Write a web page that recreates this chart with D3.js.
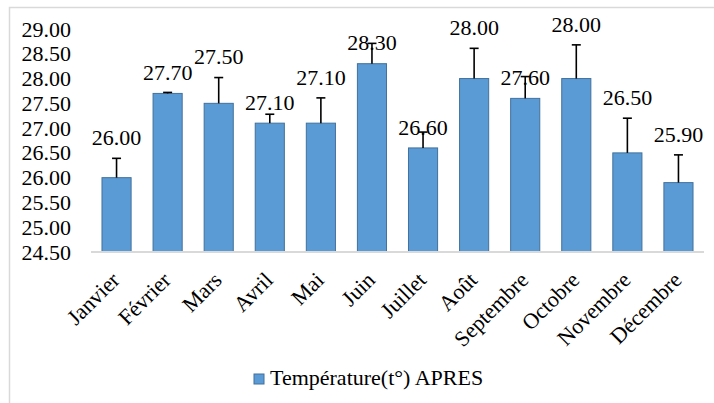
<!DOCTYPE html>
<html>
<head>
<meta charset="utf-8">
<script src="https://cdn.jsdelivr.net/npm/d3@7"></script>
</head>
<body style="margin:0">
<svg id="chart" width="714" height="403"></svg>
<script>
// data
const months = ["Janvier", "Février", "Mars", "Avril", "Mai", "Juin", "Juillet", "Août", "Septembre", "Octobre", "Novembre", "Décembre"];
const temps = [26.0, 27.7, 27.5, 27.1, 27.1, 28.3, 26.6, 28.0, 27.6, 28.0, 26.5, 25.9];
const errs = [0.39, 0.02, 0.52, 0.18, 0.51, 0.41, 0.32, 0.61, 0.44, 0.68, 0.70, 0.56];
// which value labels sit above the error bar rather than the bar top
const labelOverErr = [true, false, true, false, true, false, false, true, false, true, true, true];
const yTicks = d3.range(24.5, 29.01, 0.5);
const seriesName = "Température(t°) APRES";

const FONT = "Liberation Serif";
const FS = 22;
const svg = d3.select("#chart");
const margin = { left: 91, right: 10, top: 29, bottom: 151 };

// outer frame (only left + top visible)
svg.append("rect")
  .attr("x", 9.5).attr("y", 7.5)
  .attr("width", 720).attr("height", 420)
  .attr("fill", "none").attr("stroke", "#d9d9d9").attr("stroke-width", 1.5);

const x = d3.scaleBand()
  .domain(months)
  .range([margin.left, 704])
  .paddingInner(0.43).paddingOuter(0.215);

const y = d3.scaleLinear()
  .domain([24.5, 29])
  .range([252, 29]);

// y axis labels
const yAxis = svg.append("g")
  .attr("transform", `translate(${margin.left},0)`)
  .call(d3.axisLeft(y).tickValues(yTicks).tickFormat(d3.format(".2f")).tickSize(0).tickPadding(20));
yAxis.attr("font-family", FONT).attr("font-size", FS);
yAxis.select(".domain").remove();
yAxis.selectAll("text").attr("fill", "#000");

// bars
svg.append("g").selectAll("rect")
  .data(temps)
  .join("rect")
  .attr("x", (d, i) => x(months[i]))
  .attr("y", d => y(d))
  .attr("width", x.bandwidth())
  .attr("height", d => y(24.5) - y(d))
  .attr("fill", "#5b9bd5")
  .attr("stroke", "#41719c")
  .attr("stroke-width", 1);

// error bars (plus only)
const eb = svg.append("g").attr("stroke", "#000").attr("stroke-width", 1.6);
temps.forEach((d, i) => {
  const cx = x(months[i]) + x.bandwidth() / 2;
  eb.append("line")
    .attr("x1", cx).attr("x2", cx)
    .attr("y1", y(d)).attr("y2", y(d + errs[i]));
  eb.append("line")
    .attr("x1", cx - 4.5).attr("x2", cx + 4.5)
    .attr("y1", y(d + errs[i])).attr("y2", y(d + errs[i]));
});

// x axis line
svg.append("line")
  .attr("x1", margin.left).attr("x2", 704)
  .attr("y1", y(24.5)).attr("y2", y(24.5))
  .attr("stroke", "#d9d9d9").attr("stroke-width", 2);

// value labels
svg.append("g")
  .attr("font-family", FONT).attr("font-size", FS)
  .selectAll("text")
  .data(temps)
  .join("text")
  .attr("x", (d, i) => x(months[i]) + x.bandwidth() / 2)
  .attr("y", (d, i) => (labelOverErr[i] ? y(d + errs[i]) : y(d)) - 21)
  .attr("dy", "0.35em")
  .attr("text-anchor", "middle")
  .text(d => d.toFixed(2));

// month labels, rotated
svg.append("g")
  .attr("font-family", FONT).attr("font-size", FS)
  .selectAll("text")
  .data(months)
  .join("text")
  .attr("transform", d => `translate(${x(d) + x.bandwidth() / 2 - 1},${y(24.5) + 24}) rotate(-45)`)
  .attr("text-anchor", "end")
  .attr("dy", "0.35em")
  .text(d => d);

// legend
const leg = svg.append("g").attr("transform", "translate(254,374)");
leg.append("rect")
  .attr("width", 10).attr("height", 10)
  .attr("fill", "#5b9bd5").attr("stroke", "#41719c");
leg.append("text")
  .attr("x", 16).attr("y", 11)
  .attr("font-family", FONT).attr("font-size", FS)
  .text(seriesName);
</script>
</body>
</html>
